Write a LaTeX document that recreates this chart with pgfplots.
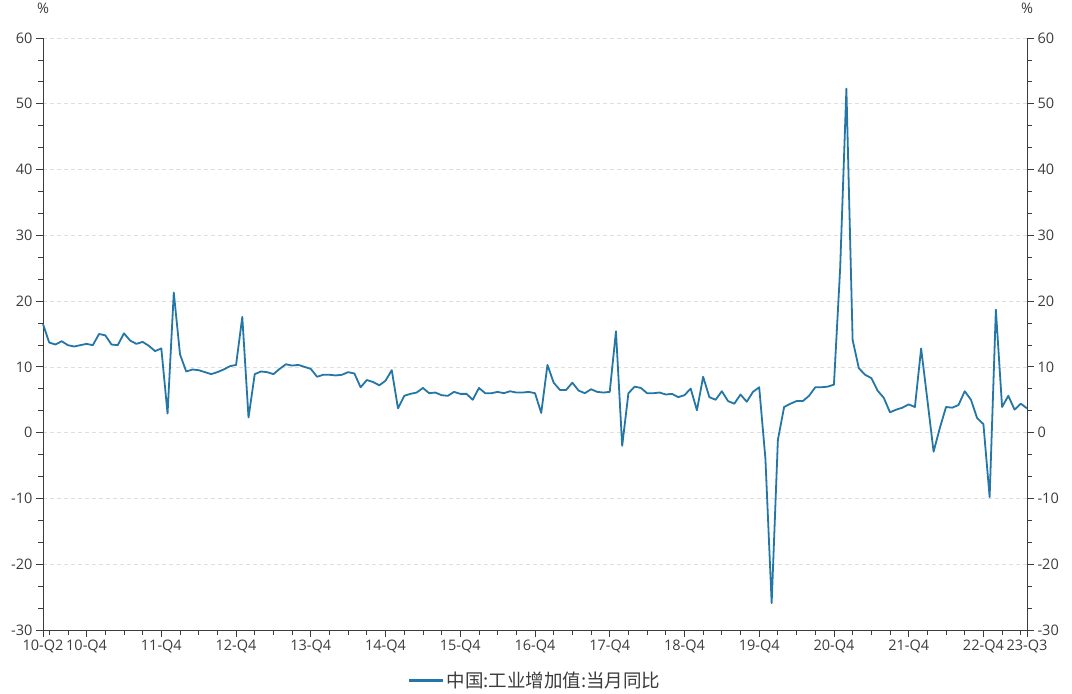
\documentclass[border=0pt]{standalone}
\usepackage{fontspec}
\setmainfont{Open Sans}
\newfontfamily\cjk{Noto Sans CJK SC}
\usepackage{pgfplots}
\pgfplotsset{compat=1.18}
\definecolor{linec}{RGB}{35,118,165}
\definecolor{axc}{RGB}{60,60,60}
\definecolor{gridc}{RGB}{222,222,222}
\begin{document}
\begin{tikzpicture}
\pgfplotsset{
  base/.style={
    scale only axis, width=984pt, height=592pt,
    xmin=0, xmax=158, ymin=-30, ymax=60,
    ytick={-30,-20,...,60},
    minor y tick num=2,
    tick align=outside,
    major tick length=7pt, minor tick length=5pt,
    every tick/.style={axc, line width=0.8pt},
    axis line style={axc, line width=0.8pt},
    tick label style={font=\fontsize{14.5}{16}\selectfont, text=axc},
    /pgf/number format/assume math mode=true,
    clip=false,
  }
}
\begin{axis}[base,
  axis x line*=bottom, axis y line*=left,
  xtick={0,7,19,31,43,55,67,79,91,103,115,127,139,151,158},
  xticklabels={10-Q2,10-Q4,11-Q4,12-Q4,13-Q4,14-Q4,15-Q4,16-Q4,17-Q4,18-Q4,19-Q4,20-Q4,21-Q4,22-Q4,23-Q3},
  minor xtick={1,4,...,157},
  ymajorgrids, grid style={gridc, dash pattern=on 4pt off 3pt, line width=0.7pt},
  xticklabel style={yshift=1pt},
  legend style={at={(0.5,-0.086)}, anchor=center, draw=none, fill=none,
    font=\cjk\fontsize{18.5}{20}\selectfont, text=axc,
    legend cell align=left},
  legend image code/.code={\draw[#1, line width=3pt] (0pt,0pt) -- (34pt,0pt);},
]
\addplot[linec, line width=1.8pt, line join=round] table[x=i,y=v] {
i v
0 16.5
1 13.7
2 13.4
3 13.9
4 13.3
5 13.1
6 13.3
7 13.5
8 13.3
9 15.0
10 14.8
11 13.4
12 13.3
13 15.1
14 14.0
15 13.5
16 13.8
17 13.2
18 12.4
19 12.8
20 2.9
21 21.3
22 11.9
23 9.3
24 9.6
25 9.5
26 9.2
27 8.9
28 9.2
29 9.6
30 10.1
31 10.3
32 17.6
33 2.3
34 8.9
35 9.3
36 9.2
37 8.9
38 9.7
39 10.4
40 10.2
41 10.3
42 10.0
43 9.7
44 8.5
45 8.8
46 8.8
47 8.7
48 8.8
49 9.2
50 9.0
51 6.9
52 8.0
53 7.7
54 7.2
55 7.9
56 9.5
57 3.7
58 5.6
59 5.9
60 6.1
61 6.8
62 6.0
63 6.1
64 5.7
65 5.6
66 6.2
67 5.9
68 5.9
69 5.0
70 6.8
71 6.0
72 6.0
73 6.2
74 6.0
75 6.3
76 6.1
77 6.1
78 6.2
79 6.0
80 3.0
81 10.3
82 7.6
83 6.5
84 6.5
85 7.6
86 6.4
87 6.0
88 6.6
89 6.2
90 6.1
91 6.2
92 15.4
93 -2.0
94 6.0
95 7.0
96 6.8
97 6.0
98 6.0
99 6.1
100 5.8
101 5.9
102 5.4
103 5.7
104 6.7
105 3.4
106 8.5
107 5.4
108 5.0
109 6.3
110 4.8
111 4.4
112 5.8
113 4.7
114 6.2
115 6.9
116 -4.0
117 -25.9
118 -1.1
119 3.9
120 4.4
121 4.8
122 4.8
123 5.6
124 6.9
125 6.9
126 7.0
127 7.3
128 25.0
129 52.3
130 14.1
131 9.8
132 8.8
133 8.3
134 6.4
135 5.3
136 3.1
137 3.5
138 3.8
139 4.3
140 3.9
141 12.8
142 5.0
143 -2.9
144 0.7
145 3.9
146 3.8
147 4.2
148 6.3
149 5.0
150 2.2
151 1.3
152 -9.8
153 18.7
154 3.9
155 5.6
156 3.5
157 4.4
158 3.7
};
\addlegendentry{中国:工业增加值:当月同比}
\node[font=\fontsize{14.5}{16}\selectfont, text=axc] at (axis cs:0,60) [yshift=30pt] {\%};
\node[font=\fontsize{14.5}{16}\selectfont, text=axc] at (axis cs:158,60) [yshift=30pt] {\%};
\end{axis}
\begin{axis}[base,
  axis x line=none, axis y line*=right,
  xtick=\empty,
]
\addplot[draw=none] coordinates {(0,0)};
\end{axis}
\pgfresetboundingbox
\path[use as bounding box] (current axis.south west) ++(-43pt,-64pt) rectangle ++(1072pt,694pt);
\end{tikzpicture}
\end{document}
